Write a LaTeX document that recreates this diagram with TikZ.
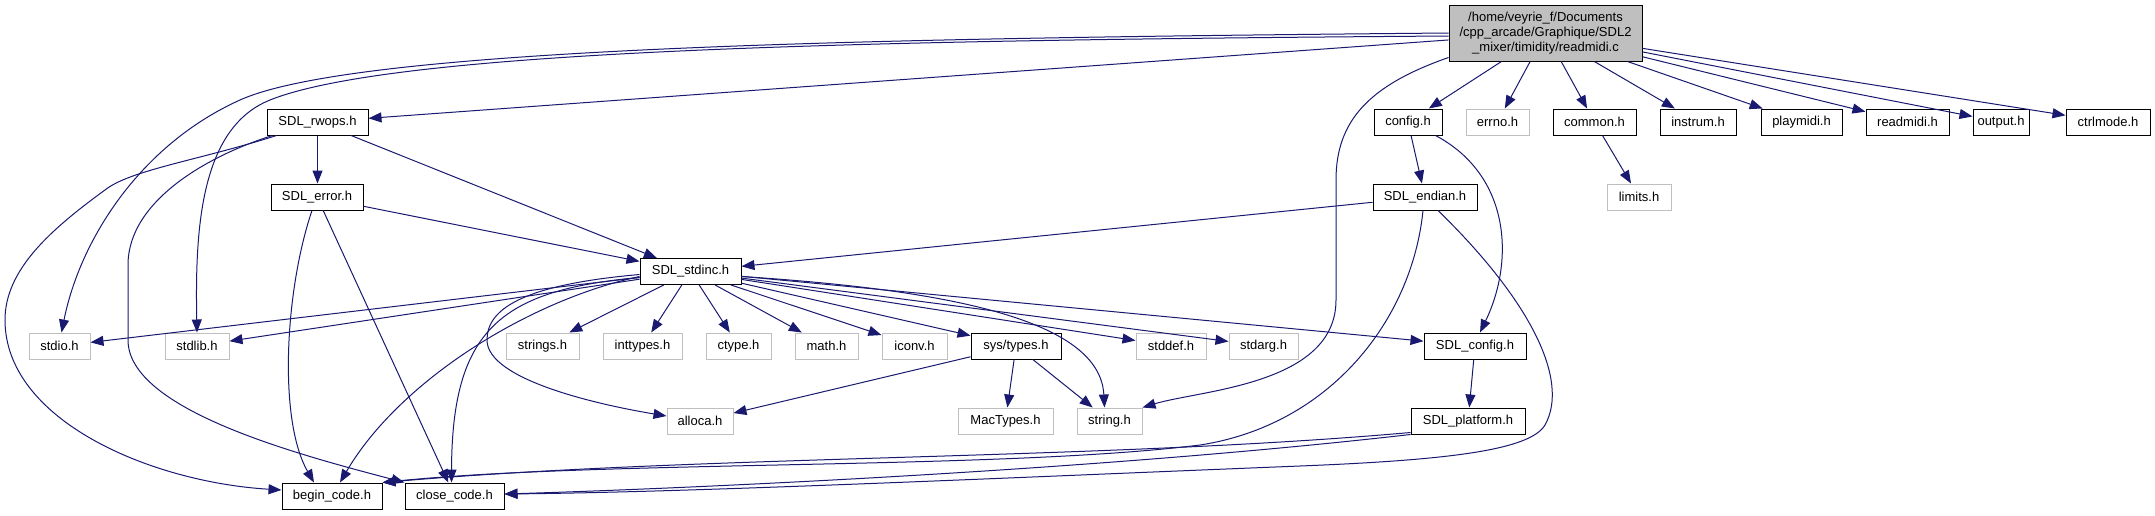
\documentclass[tikz,border=0pt]{standalone}
\usepackage{fontspec}
\setmainfont{Liberation Sans}
\usetikzlibrary{arrows.meta}
\definecolor{edgec}{HTML}{191970}
\definecolor{grayb}{HTML}{BFBFBF}
\tikzset{
  box/.style={draw=black, line width=1pt, minimum height=26pt, inner sep=0pt, fill=white, font=\fontsize{13}{15}\selectfont},
  gbox/.style={box, draw=grayb},
  mainbox/.style={box, fill=grayb, minimum width=193pt, minimum height=56pt, align=center},
  dep/.style={draw=edgec, line width=1pt, -{Triangle[length=13pt,width=10pt]}},
}
\begin{document}
\begin{tikzpicture}[x=1pt,y=-1pt]
\useasboundingbox (0,0) rectangle (2155,515);
% row 0
\node[mainbox] (main) at (1545.5,33) {/home/veyrie\_f/Documents\\/cpp\_arcade/Graphique/SDL2\\\_mixer/timidity/readmidi.c};
% row 1
\node[box, minimum width=101pt] (rwops) at (317.5,122) {SDL\_rwops.h};
\node[box, minimum width=68pt] (config) at (1408,122) {config.h};
\node[gbox, minimum width=63pt] (errno) at (1497.5,122) {errno.h};
\node[box, minimum width=83pt] (common) at (1594.5,122) {common.h};
\node[box, minimum width=76pt] (instrum) at (1698,122) {instrum.h};
\node[box, minimum width=81pt] (playmidi) at (1801.5,122) {playmidi.h};
\node[box, minimum width=83pt] (readmidi) at (1907.5,122) {readmidi.h};
\node[box, minimum width=56pt] (output) at (2001,122) {output.h};
\node[box, minimum width=84pt] (ctrlmode) at (2108,122) {ctrlmode.h};
% row 2
\node[box, minimum width=92pt] (error) at (317,197) {SDL\_error.h};
\node[box, minimum width=104pt] (endian) at (1425,197) {SDL\_endian.h};
\node[gbox, minimum width=64pt] (limits) at (1639,197) {limits.h};
% row 3
\node[box, minimum width=101pt] (stdinc) at (690.5,271.5) {SDL\_stdinc.h};
% row 4
\node[gbox, minimum width=61pt] (stdio) at (59.5,346) {stdio.h};
\node[gbox, minimum width=64pt] (stdlib) at (197,346) {stdlib.h};
\node[gbox, minimum width=73pt] (strings) at (542.5,346) {strings.h};
\node[gbox, minimum width=79pt] (inttypes) at (642.5,346) {inttypes.h};
\node[gbox, minimum width=65pt] (ctype) at (738.5,346) {ctype.h};
\node[gbox, minimum width=63pt] (math) at (826.5,346) {math.h};
\node[gbox, minimum width=65pt] (iconv) at (914.5,346) {iconv.h};
\node[box, minimum width=90pt] (systypes) at (1016,346) {sys/types.h};
\node[gbox, minimum width=70pt] (stddef) at (1171,346) {stddef.h};
\node[gbox, minimum width=69pt] (stdarg) at (1263.5,346) {stdarg.h};
\node[box, minimum width=102pt] (sdlconfig) at (1475,346) {SDL\_config.h};
% row 5
\node[gbox, minimum width=66pt] (alloca) at (700,421) {alloca.h};
\node[gbox, minimum width=95pt] (mactypes) at (1005.5,421) {MacTypes.h};
\node[gbox, minimum width=65pt] (string) at (1109.5,421) {string.h};
\node[box, minimum width=114pt] (platform) at (1468,421) {SDL\_platform.h};
% row 6
\node[box, minimum width=100pt] (begin) at (332,496) {begin\_code.h};
\node[box, minimum width=99pt] (close) at (454.5,496) {close\_code.h};

% straight edges
\foreach \t in {rwops,config,errno,common,instrum,playmidi,readmidi,output,ctrlmode}
  \draw[dep] (main) -- (\t);
\draw[dep] (rwops.south) -- (rwops.south |- error.north);
\draw[dep] (rwops) -- (stdinc);
\draw[dep] (error) -- (stdinc);
\draw[dep] (error) -- (close);
\draw[dep] (config) -- (endian);
\draw[dep] (common) -- (limits);
\draw[dep] (endian) -- (stdinc);
\foreach \t in {stdio,stdlib,strings,inttypes,ctype,math,iconv,systypes,stddef,stdarg,sdlconfig}
  \draw[dep] (stdinc) -- (\t);
\foreach \t in {alloca,mactypes,string}
  \draw[dep] (systypes) -- (\t);
\draw[dep] (sdlconfig) -- (platform);

% curved edges
\draw[dep] (main.west) .. controls (900,38) and (360,46) .. (240,100) .. controls (140,145) and (80,240) .. ([xshift=2pt]stdio.north);
\draw[dep] ([yshift=-3pt]main.west) .. controls (900,40) and (400,48) .. (270,100) .. controls (200,128) and (195,230) .. (stdlib.north);
\draw[dep] ([yshift=4pt]main.south west) .. controls (1370,85) and (1336,120) .. (1336,180) -- (1336,300) .. controls (1336,385) and (1200,390) .. (string.north east);

\draw[dep] ([xshift=10pt]rwops.south west) .. controls (200,160) and (130,170) .. (105,190) .. controls (50,230) and (5,270) .. (5,320) .. controls (5,420) and (150,482) .. ([yshift=6pt]begin.west);
\draw[dep] ([xshift=6pt]rwops.south west) .. controls (210,155) and (128,200) .. (128,265) -- (128,340) .. controls (128,410) and (300,455) .. (close.north west);

\draw[dep] ([xshift=-5pt]error.south) .. controls (285,290) and (278,420) .. ([xshift=-18pt]begin.north);

\draw[dep] ([xshift=-7pt]config.south east) .. controls (1510,175) and (1515,260) .. ([xshift=5pt]sdlconfig.north);

\draw[dep] ([xshift=-2pt]endian.south) .. controls (1412,320) and (1330,425) .. (1200,445) .. controls (1000,470) and (600,460) .. (begin.north east);
\draw[dep] ([xshift=13pt]endian.south) .. controls (1530,300) and (1570,380) .. (1545,425) .. controls (1530,450) and (1450,460) .. (1300,466) .. controls (1000,478) and (700,492) .. ([yshift=2pt]close.east);

\draw[dep] ([yshift=2pt]platform.south west) .. controls (1100,460) and (700,455) .. (begin.north east);
\draw[dep] (platform.south west) .. controls (1100,470) and (700,488) .. ([yshift=2pt]close.east);

\draw[dep] ([yshift=-5pt]stdinc.east) .. controls (950,290) and (1100,320) .. ([xshift=-5pt]string.north);
\draw[dep] ([yshift=-3pt]stdinc.west) .. controls (520,285) and (487,310) .. (487,340) .. controls (487,380) and (600,405) .. ([yshift=5pt]alloca.west);
\draw[dep] ([yshift=-5pt]stdinc.west) .. controls (530,300) and (400,380) .. ([xshift=8pt]begin.north);
\draw[dep] ([yshift=-6pt]stdinc.west) .. controls (500,290) and (452,330) .. ([xshift=-3pt]close.north);
\end{tikzpicture}
\end{document}
